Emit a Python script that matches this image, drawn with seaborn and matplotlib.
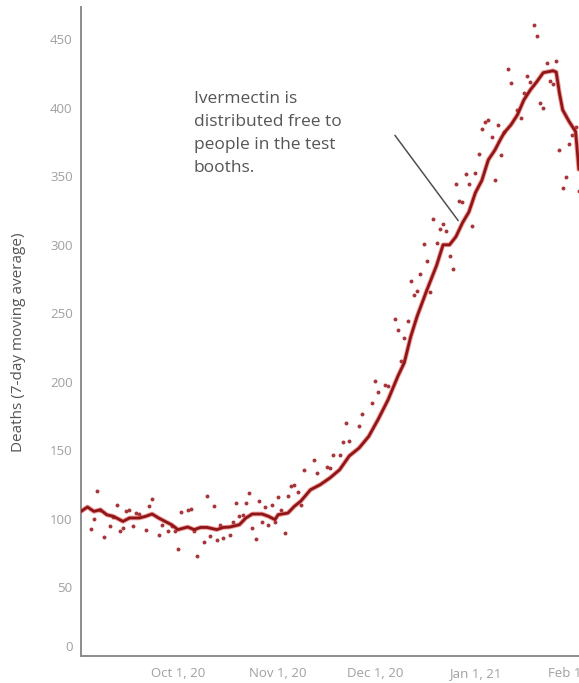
import matplotlib
matplotlib.use("Agg")
import matplotlib.pyplot as plt
import matplotlib.transforms as mtransforms
import seaborn as sns
import pandas as pd

start = pd.Timestamp("2020-09-01")

# daily deaths (dots): day offset from Sep 1, 2020 and value
dot_days = [3, 4, 5, 6, 7, 9, 10, 11, 12, 13, 14, 15, 16, 17, 18, 20, 21, 22, 24, 25,
            27, 28, 29, 30, 31, 33, 34, 35, 36, 38, 39, 40, 41, 42, 43, 44, 46, 47, 48, 49,
            50, 51, 52, 53, 54, 55, 56, 57, 58, 59, 60, 61, 62, 63, 64, 65, 66, 67, 68, 69,
            72, 73, 76, 77, 78, 80, 81, 82, 83, 86, 87, 90, 91, 92, 94, 95, 97, 98, 99, 100,
            101, 102, 103, 104, 105, 106, 107, 108, 109, 110, 111, 112, 113, 114, 115, 116,
            117, 118, 119, 120, 121, 122, 123, 124, 125, 126, 127, 128, 129, 130, 131, 132,
            133, 135, 136, 137, 138, 139, 140, 141, 142, 143, 144, 145, 146, 147, 148, 149,
            150, 151, 152, 153, 154]
dot_vals = [92.7, 100, 120.6, 106.3, 86.6, 94.6, 101.1, 110.4, 90.9, 93.4, 106, 106.7, 94.6,
            104.3, 103.8, 91.7, 109.7, 114.8, 88.5, 95.8,
            91.2, 95.1, 90.9, 78.1, 104.8, 106.7, 107.3, 90.9, 72.7, 82.9, 116.5, 87.8, 109.7,
            84.9, 95.8, 86.1, 88.5, 97.5, 111.6, 101.9,
            103.1, 111.6, 118.9, 93.4, 85.4, 112.8, 97.5, 108.7, 95.8, 110.4, 98, 115.7, 106.7,
            89.8, 116.5, 123.7, 125, 119.4, 110, 135.9,
            142.7, 133.5, 137.8, 136.8, 146.8, 146.8, 155.8, 169.7, 156.8, 167.5, 176.6, 184.6,
            200.5, 192.8, 197.5, 196.7, 245.6, 237.8, 214.9, 231.8,
            244.6, 273.5, 263.5, 266.5, 278.6, 300.5, 288.4, 265.5, 318.7, 301.5, 311.4, 315.5,
            310.3, 291.5, 282.6, 344.5,
            332.2, 331.1, 351.5, 344.4, 313.5, 352.5, 366.3, 384.3, 389.9, 391.1, 378.5, 347.4,
            387.5, 365.5, 382.2, 428.3,
            418.4, 398.4, 392.4, 411, 423.2, 419, 460.4, 452.4, 403.3, 400.1, 432.5, 419.6,
            417.4, 434.1, 369.3, 341.3,
            349.3, 373.4, 380.2, 386, 339.4]

# 7-day moving average (line)
avg_days = [0, 2, 4, 6, 8, 10, 13, 15, 18, 20, 22, 24, 26, 28, 30, 33, 35, 37, 39, 42,
            44, 46, 49, 51, 53, 56, 58, 60, 61, 64, 66, 68, 71, 74, 77, 80, 83, 86, 89, 92,
            95, 98, 100, 102, 104, 107, 110, 112, 114, 116, 118, 120, 122, 124, 126, 128,
            130, 131, 133, 135, 137, 139, 141, 143, 145, 146, 147, 148, 149, 151, 153, 154]
avg_vals = [105.5, 108.7, 105.5, 106.7, 103, 101.9, 98.2, 100.7, 100.7, 101.9, 103.6, 100.7,
            98.2, 95.8, 92.2, 94.1, 92.2, 93.8, 93.8, 92.2,
            93.8, 94.1, 95.8, 100.7, 103.6, 103.6, 101.9, 99.5, 103.1, 104.3, 109.2, 113,
            121.3, 125, 129.9, 135.9, 146, 151.7, 160.2, 173,
            187, 204, 214, 233, 248, 267, 285, 300, 300, 306, 316, 324, 338, 347, 362, 369,
            378, 382, 387.5, 394.8, 405.7, 413, 419, 425.6, 426.5, 427, 426, 410.6, 398.4,
            389.9, 382.6, 355]

tick_dates = ["2020-10-01", "2020-11-01", "2020-12-01", "2021-01-01", "2021-02-01"]
tick_labels = ["Oct 1, 20", "Nov 1, 20", "Dec 1, 20", "Jan 1, 21", "Feb 1, 21"]
y_ticks = [0, 50, 100, 150, 200, 250, 300, 350, 400, 450]

note = "Ivermectin is\ndistributed free to\npeople in the test\nbooths."

dots = pd.DataFrame({"date": start + pd.to_timedelta(dot_days, unit="D"), "deaths": dot_vals})
avg = pd.DataFrame({"date": start + pd.to_timedelta(avg_days, unit="D"), "deaths": avg_vals})

sns.set_style("white")
plt.rcParams["font.family"] = ["Open Sans", "DejaVu Sans"]

fig = plt.figure(figsize=(5.79, 6.83), dpi=100)
ax = fig.add_axes([81 / 579, 27 / 683, 498 / 579, 649 / 683])

sns.scatterplot(data=dots, x="date", y="deaths", ax=ax, color="#a8353a", s=8,
                linewidth=0, zorder=2)
sns.lineplot(data=avg, x="date", y="deaths", ax=ax, color="#e23a3a", linewidth=3.4,
             alpha=0.5, zorder=3)
sns.lineplot(data=avg, x="date", y="deaths", ax=ax, color="#8e1616", linewidth=2.0,
             zorder=4)

ax.set_xlim(start, start + pd.Timedelta(days=154.05))
ax.set_ylim(0, 473.5)

ax.set_yticks(y_ticks)
ax.set_yticklabels([str(v) for v in y_ticks])
ax.set_xticks(pd.to_datetime(tick_dates))
ax.set_xticklabels(tick_labels)

ax.tick_params(axis="both", colors="#8a8a8a", labelcolor="#a0a0a0", labelsize=9.5,
               length=4, width=1, direction="out", pad=2)
ax.tick_params(axis="x", pad=4)
# Tableau lifts the zero label off the baseline
zero_lbl = ax.get_yticklabels()[0]
zero_lbl.set_transform(zero_lbl.get_transform() +
                       mtransforms.ScaledTranslation(0, 10 / 100, fig.dpi_scale_trans))

for side in ["top", "right"]:
    ax.spines[side].set_visible(False)
for side in ["left", "bottom"]:
    ax.spines[side].set_color("#8c8c8c")
    ax.spines[side].set_linewidth(1.4)

ax.set_xlabel("")
ax.set_ylabel("Deaths (7-day moving average)", color="#555555", fontsize=11)
ax.yaxis.set_label_coords(-0.11, 0.484)

# annotation
ax.annotate("", xy=(start + pd.Timedelta(days=117.2), 316),
            xytext=(start + pd.Timedelta(days=96.6), 381.5),
            arrowprops=dict(arrowstyle="-", color="#505050", lw=1.1))
ax.text(0.226, 0.870, note, transform=ax.transAxes, ha="left", va="top",
        fontsize=12.5, color="#555555", linespacing=1.56)

fig.savefig("out.png", dpi=100)
